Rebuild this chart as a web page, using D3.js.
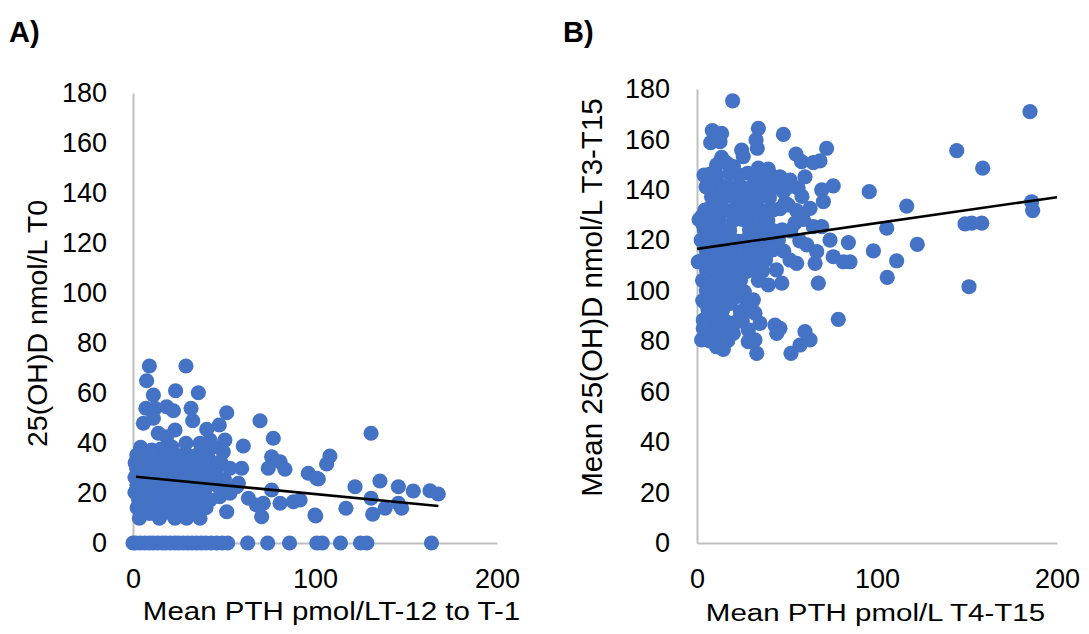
<!DOCTYPE html>
<html>
<head>
<meta charset="utf-8">
<script src="https://cdn.jsdelivr.net/npm/d3@7"></script>
<style>
  html, body { margin: 0; padding: 0; background: #fff; }
  svg { display: block; }
  text { font-family: "Liberation Sans", Arial, sans-serif; fill: #000; }
</style>
</head>
<body>
<svg id="chart" width="1089" height="634"></svg>
<script>
// Axis ticks shared by both panels
const xTicks = [0, 100, 200];
const yTicks = [0, 20, 40, 60, 80, 100, 120, 140, 160, 180];

// Panel A: mean PTH (T-12 to T-1) vs 25(OH)D at T0
const zeroRowA = [0, 1.5, 4, 6.5, 9, 11, 13.5, 16, 18, 20.5, 23, 25, 27.5, 30, 32.5, 35, 37.5, 40, 43, 46, 49, 52,
  63, 74, 86, 101, 104, 114, 125, 128.5, 164];

const scatterA = [
  [9.0,70.8],[29.1,70.8],[7.5,64.9],[11.2,59.2],[23.4,60.9],[35.9,60.1],[7.1,53.9],[12.1,53.9],[18.5,54.5],
  [22.2,52.9],[31.9,53.9],[32.8,48.9],[51.5,52.1],[69.8,48.9],[5.7,47.9],[11.2,49.9],[13.9,43.9],[23.1,45.2],
  [18.5,42.5],[40.5,45.5],[47.4,47.2],[77.1,41.9],[29.1,39.9],[36.8,39.9],[42.3,41.2],[50.5,41.2],[10.3,37.2],
  [60.6,38.8],[37.7,37.2],[44.1,38.5],[49.6,36.5],[76.2,34.5],[80.8,32.5],[74.3,29.9],[83.5,29.5],[96.3,27.9],
  [100.9,25.9],[2.0,29.9],[39.6,30.5],[46,29.9],[53.3,29.9],[59.7,29.9],[57.9,23.9],[63.4,17.9],[67.9,15.2],
  [71.6,15.9],[70.7,10.5],[76.2,21.2],[80.8,15.9],[88.1,16.5],[100,11.2],[51.5,12.5],[42.3,17.2],[47.6,18.5],
  [53.3,19.9],[56.9,22.5],[3.5,9.9],[14.5,9.9],[23.1,9.9],[29.5,9.9],[36.8,9.9],
  [130.8,43.9],[108.2,34.8],[106.4,31.6],[101.8,25.6],[122,22.5],[135.7,24.8],[145.8,22.5],[154,20.8],
  [163.2,20.9],[167.7,19.6],[130.8,17.9],[138.5,13.9],[145.8,15.9],[147.6,13.9],[131.7,11.5],[117,13.9],
  [100.4,10.8],[91.8,17.2]
];

const clusterA = [
  [4.2,38.3],[15.3,37.6],[21.4,38.4],
  [2.1,35.2],[6.3,34.6],[12.2,35.4],[17.4,34.8],[22.1,35.6],[27.3,35.1],[31.2,34.7],[35.4,35.3],[41.1,34.6],
  [1.2,32.1],[5.4,31.7],[9.3,32.4],[14.1,31.8],[19.2,32.3],[24.4,31.6],[28.1,32.2],[33.2,31.9],[38.3,32.4],[43.2,31.7],[48.1,32.6],
  [6.2,29.2],[11.4,28.8],[16.2,29.4],[21.1,28.6],[26.3,29.1],[30.2,28.7],[35.1,29.3],
  [1.1,26.2],[4.3,25.8],[9.2,26.4],[13.1,25.7],[18.3,26.1],[23.2,26.5],[28.4,25.9],[33.1,26.3],[38.2,25.6],[44.1,26.1],[50.2,25.4],
  [2.2,23.1],[7.1,22.8],[11.3,23.4],[16.2,22.7],[20.1,23.2],[25.3,22.6],[31.1,23.3],[36.2,22.9],[41.3,23.1],[47.2,22.4],
  [1.1,20.2],[5.2,19.8],[9.4,20.3],[14.2,19.6],[19.1,20.4],[24.3,19.9],[28.2,20.1],[34.1,19.7],[39.2,20.3],
  [3.1,17.2],[7.3,16.8],[12.1,17.4],[17.2,16.7],[22.3,17.1],[27.1,17.5],[32.2,16.9],[37.1,17.2],
  [2.3,14.1],[6.1,13.8],[10.2,14.4],[15.1,13.7],[20.3,14.2],[26.1,13.9],[31.2,14.3],[35.3,13.6],[40.1,14.1],
  [4.1,12.1],[9.2,11.8],[18.1,12.2],[24.2,11.9],[33.1,12.3]
];

const trendA = [[1.6, 26.5], [167.8, 14.8]];

// Panel B: mean PTH (T4-T15) vs mean 25(OH)D (T3-T15)
const scatterB = [
  [19.8,175.3],[8.5,163.5],[13.7,162.4],[7.6,158.7],[12.8,159.1],[34.1,164.4],[32.8,159.8],[33.5,156.5],[48,162],
  [24.8,155.8],[25.7,153.2],[72,156.5],[55,154.2],[58.1,151.2],[64.6,150.8],[68.3,151.5],[3.9,145.9],[13.7,152.9],
  [10.9,149.9],[16.5,150.6],[20.2,149.2],[34.1,148.6],[39.6,148.2],[60,145.2],[46.1,145.2],[51.7,143.9],[75.7,141.6],
  [69.3,140],[95.7,139.3],[70.2,135.3],[62.8,132.7],[54.4,126.8],[64.6,125.4],[69.3,125.4],[73.9,120.1],[84.1,119.1],
  [98,115.8],[61,118.2],[66.5,115.5],[75.7,113.5],[81.3,111.5],[51.7,112.2],[55.4,110.9],[65.6,110.9],[48.9,134.9],
  [50.7,134],[44.3,141.3],[48,139.3],[0.7,111.5],[2.6,129.4],[3.5,126.1],[4.4,132],
  [67.4,103],[47.1,103],[39.6,102.3],[7.2,102.3],[78.5,88.7],[43.3,86.4],[46.1,85.1],[44.3,83.1],[60,83.8],
  [62.8,80.5],[57.2,78.5],[52.2,75.2],[33.2,75.2],[28.5,79.8],[32.2,80.5],[28.5,84.5],[35,87.1],[30.4,92.4],
  [32.2,91.1],[27.6,96.4],[31.3,96.4],[2.6,80.5],[10.9,77.8],[14.6,76.8],[3.5,88.4],[3.5,85.1],[5.4,94.4],
  [20.2,83.1],[18.3,87.1],[18.3,95],[22,97.7],
  [185,171],[144.3,155.6],[158.7,148.6],[116.5,133.6],[185.9,135.3],[186.5,131.8],[105.4,124.8],[148.9,126.5],
  [152.6,126.8],[158.2,126.8],[122.4,118.4],[110.9,111.9],[105.7,105.3],[151.1,101.6],[85,111.5]
];

const clusterB = [
  [7.2,146.3],[11.1,145.7],[18.3,146.4],[23.1,145.9],[28.2,146.6],[31.1,145.8],[36.2,146.2],[41.1,145.6],
  [5.1,141.2],[9.3,140.7],[14.2,141.4],[19.1,140.8],[24.3,141.3],[29.1,140.6],[33.2,141.1],[38.3,140.8],[52.1,141.5],[56.2,140.7],
  [8.1,137.2],[12.3,136.7],[16.1,137.4],[21.2,136.8],[26.1,137.3],[31.3,136.6],[35.1,137.1],[40.2,136.9],[58.3,137.4],
  [6.2,132.3],[10.1,131.8],[14.3,132.4],[18.2,131.7],[23.1,132.2],[27.3,131.9],[32.2,132.5],[37.1,131.6],[42.3,132.1],[46.2,132.6],[55.3,131.8],
  [1.2,128.2],[8.3,127.7],[12.1,128.4],[20.2,127.9],[25.3,128.3],[30.1,127.6],[35.2,128.1],[39.3,127.8],[59.1,128.3],
  [4.1,124.2],[9.2,123.7],[14.3,124.4],[18.1,123.8],[29.2,124.1],[34.3,123.6],[38.1,124.3],[42.2,123.9],[47.3,124.2],[52.1,123.7],
  [2.3,120.1],[7.2,119.7],[11.1,120.3],[15.3,119.8],[19.2,120.4],[23.1,119.6],[27.3,120.2],[32.1,119.9],[36.2,120.3],[40.1,119.7],[45.2,120.1],[57.1,119.8],
  [5.1,116.2],[9.3,115.7],[13.2,116.3],[18.1,115.8],[22.3,116.4],[26.2,115.6],[30.1,116.1],[35.3,115.9],[42.1,116.2],[48.2,115.7],
  [3.2,112.1],[7.1,111.7],[11.3,112.3],[15.2,111.8],[20.1,112.2],[25.3,111.6],[29.1,112.1],[33.2,111.9],[38.1,112.3],
  [5.3,108.2],[9.1,107.7],[13.2,108.3],[17.1,107.9],[22.3,108.1],[27.2,107.6],[31.1,108.2],[36.3,107.8],[44.1,108.3],
  [3.1,104.1],[10.2,103.7],[14.1,104.3],[18.3,103.8],[24.2,104.2],[34.1,104.1],
  [5.2,100.2],[9.1,99.7],[13.3,100.3],[17.2,99.8],[22.1,100.1],[26.3,99.6],
  [3.2,96.1],[8.1,95.8],[12.2,96.3],[15.1,95.7],
  [6.2,92.1],[10.1,91.8],[14.2,92.3],[24.1,91.7],
  [8.1,88.2],[12.2,87.7],[15.1,88.3],[22.2,87.8],[25.1,88.1],
  [6.1,84.1],[10.2,83.7],[14.1,84.2],[16.2,83.8],
  [7.1,80.1],[12.2,79.8],[17.1,80.2]
];

const trendB = [[0, 116.6], [200, 137.1]];

const pointsA = zeroRowA.map(x => [x, 0]).concat(clusterA, scatterA);
const pointsB = clusterB.concat(scatterB);

const svg = d3.select("#chart");
const markerColor = "#4472C4";
const axisColor = "#bfbfbf";

function drawPanel(cfg) {
  const x = d3.scaleLinear().domain([0, 200]).range(cfg.xRange);
  const y = d3.scaleLinear().domain([0, 180]).range(cfg.yRange);
  const g = svg.append("g");

  const xAxis = g.append("g")
    .attr("transform", `translate(0,${cfg.yRange[0]})`)
    .call(d3.axisBottom(x).tickValues(xTicks).tickSize(0).tickPadding(25.5));
  const yAxis = g.append("g")
    .attr("transform", `translate(${cfg.xRange[0]},0)`)
    .call(d3.axisLeft(y).tickValues(yTicks).tickSize(0).tickPadding(cfg.yPad));

  [xAxis, yAxis].forEach(a => {
    a.select(".domain").attr("stroke", axisColor).attr("stroke-width", 2);
    a.selectAll("text")
      .attr("fill", "#000")
      .style("font-family", '"Liberation Sans", Arial, sans-serif')
      .style("font-size", "27px");
  });

  g.append("g").selectAll("circle")
    .data(cfg.points)
    .join("circle")
    .attr("cx", d => x(d[0]))
    .attr("cy", d => y(d[1]))
    .attr("r", 7.6)
    .attr("fill", markerColor);

  g.append("line")
    .attr("x1", x(cfg.trend[0][0])).attr("y1", y(cfg.trend[0][1]))
    .attr("x2", x(cfg.trend[1][0])).attr("y2", y(cfg.trend[1][1]))
    .attr("stroke", "#000")
    .attr("stroke-width", 2.6);

  // axis titles
  g.append("g")
    .attr("transform", `translate(${cfg.xTitlePos[0]},${cfg.xTitlePos[1]}) scale(1,${cfg.xTitleScale})`)
    .append("text")
    .attr("text-anchor", "middle")
    .style("font-size", "29.5px")
    .text(cfg.xTitle);

  g.append("text")
    .attr("transform", `translate(${cfg.yTitlePos[0]},${cfg.yTitlePos[1]}) rotate(-90)`)
    .attr("text-anchor", "middle")
    .style("font-size", cfg.yTitleSize + "px")
    .text(cfg.yTitle);

  g.append("text")
    .attr("x", cfg.labelPos[0]).attr("y", cfg.labelPos[1])
    .style("font-size", "29px")
    .style("font-weight", "bold")
    .text(cfg.label);
}

drawPanel({
  xRange: [133, 497], yRange: [543, 93], yPad: 26,
  points: pointsA, trend: trendA,
  xTitle: "Mean PTH pmol/LT-12 to T-1", xTitlePos: [331.5, 620], xTitleScale: 0.88,
  yTitle: "25(OH)D nmol/L T0", yTitlePos: [47, 323.5], yTitleSize: 28.5,
  label: "A)", labelPos: [9, 42]
});

drawPanel({
  xRange: [697, 1057], yRange: [543, 89], yPad: 27,
  points: pointsB, trend: trendB,
  xTitle: "Mean PTH pmol/L T4-T15", xTitlePos: [875.5, 621], xTitleScale: 0.82,
  yTitle: "Mean 25(OH)D nmol/L T3-T15", yTitlePos: [602, 297.5], yTitleSize: 29.5,
  label: "B)", labelPos: [563, 42]
});
</script>
</body>
</html>
